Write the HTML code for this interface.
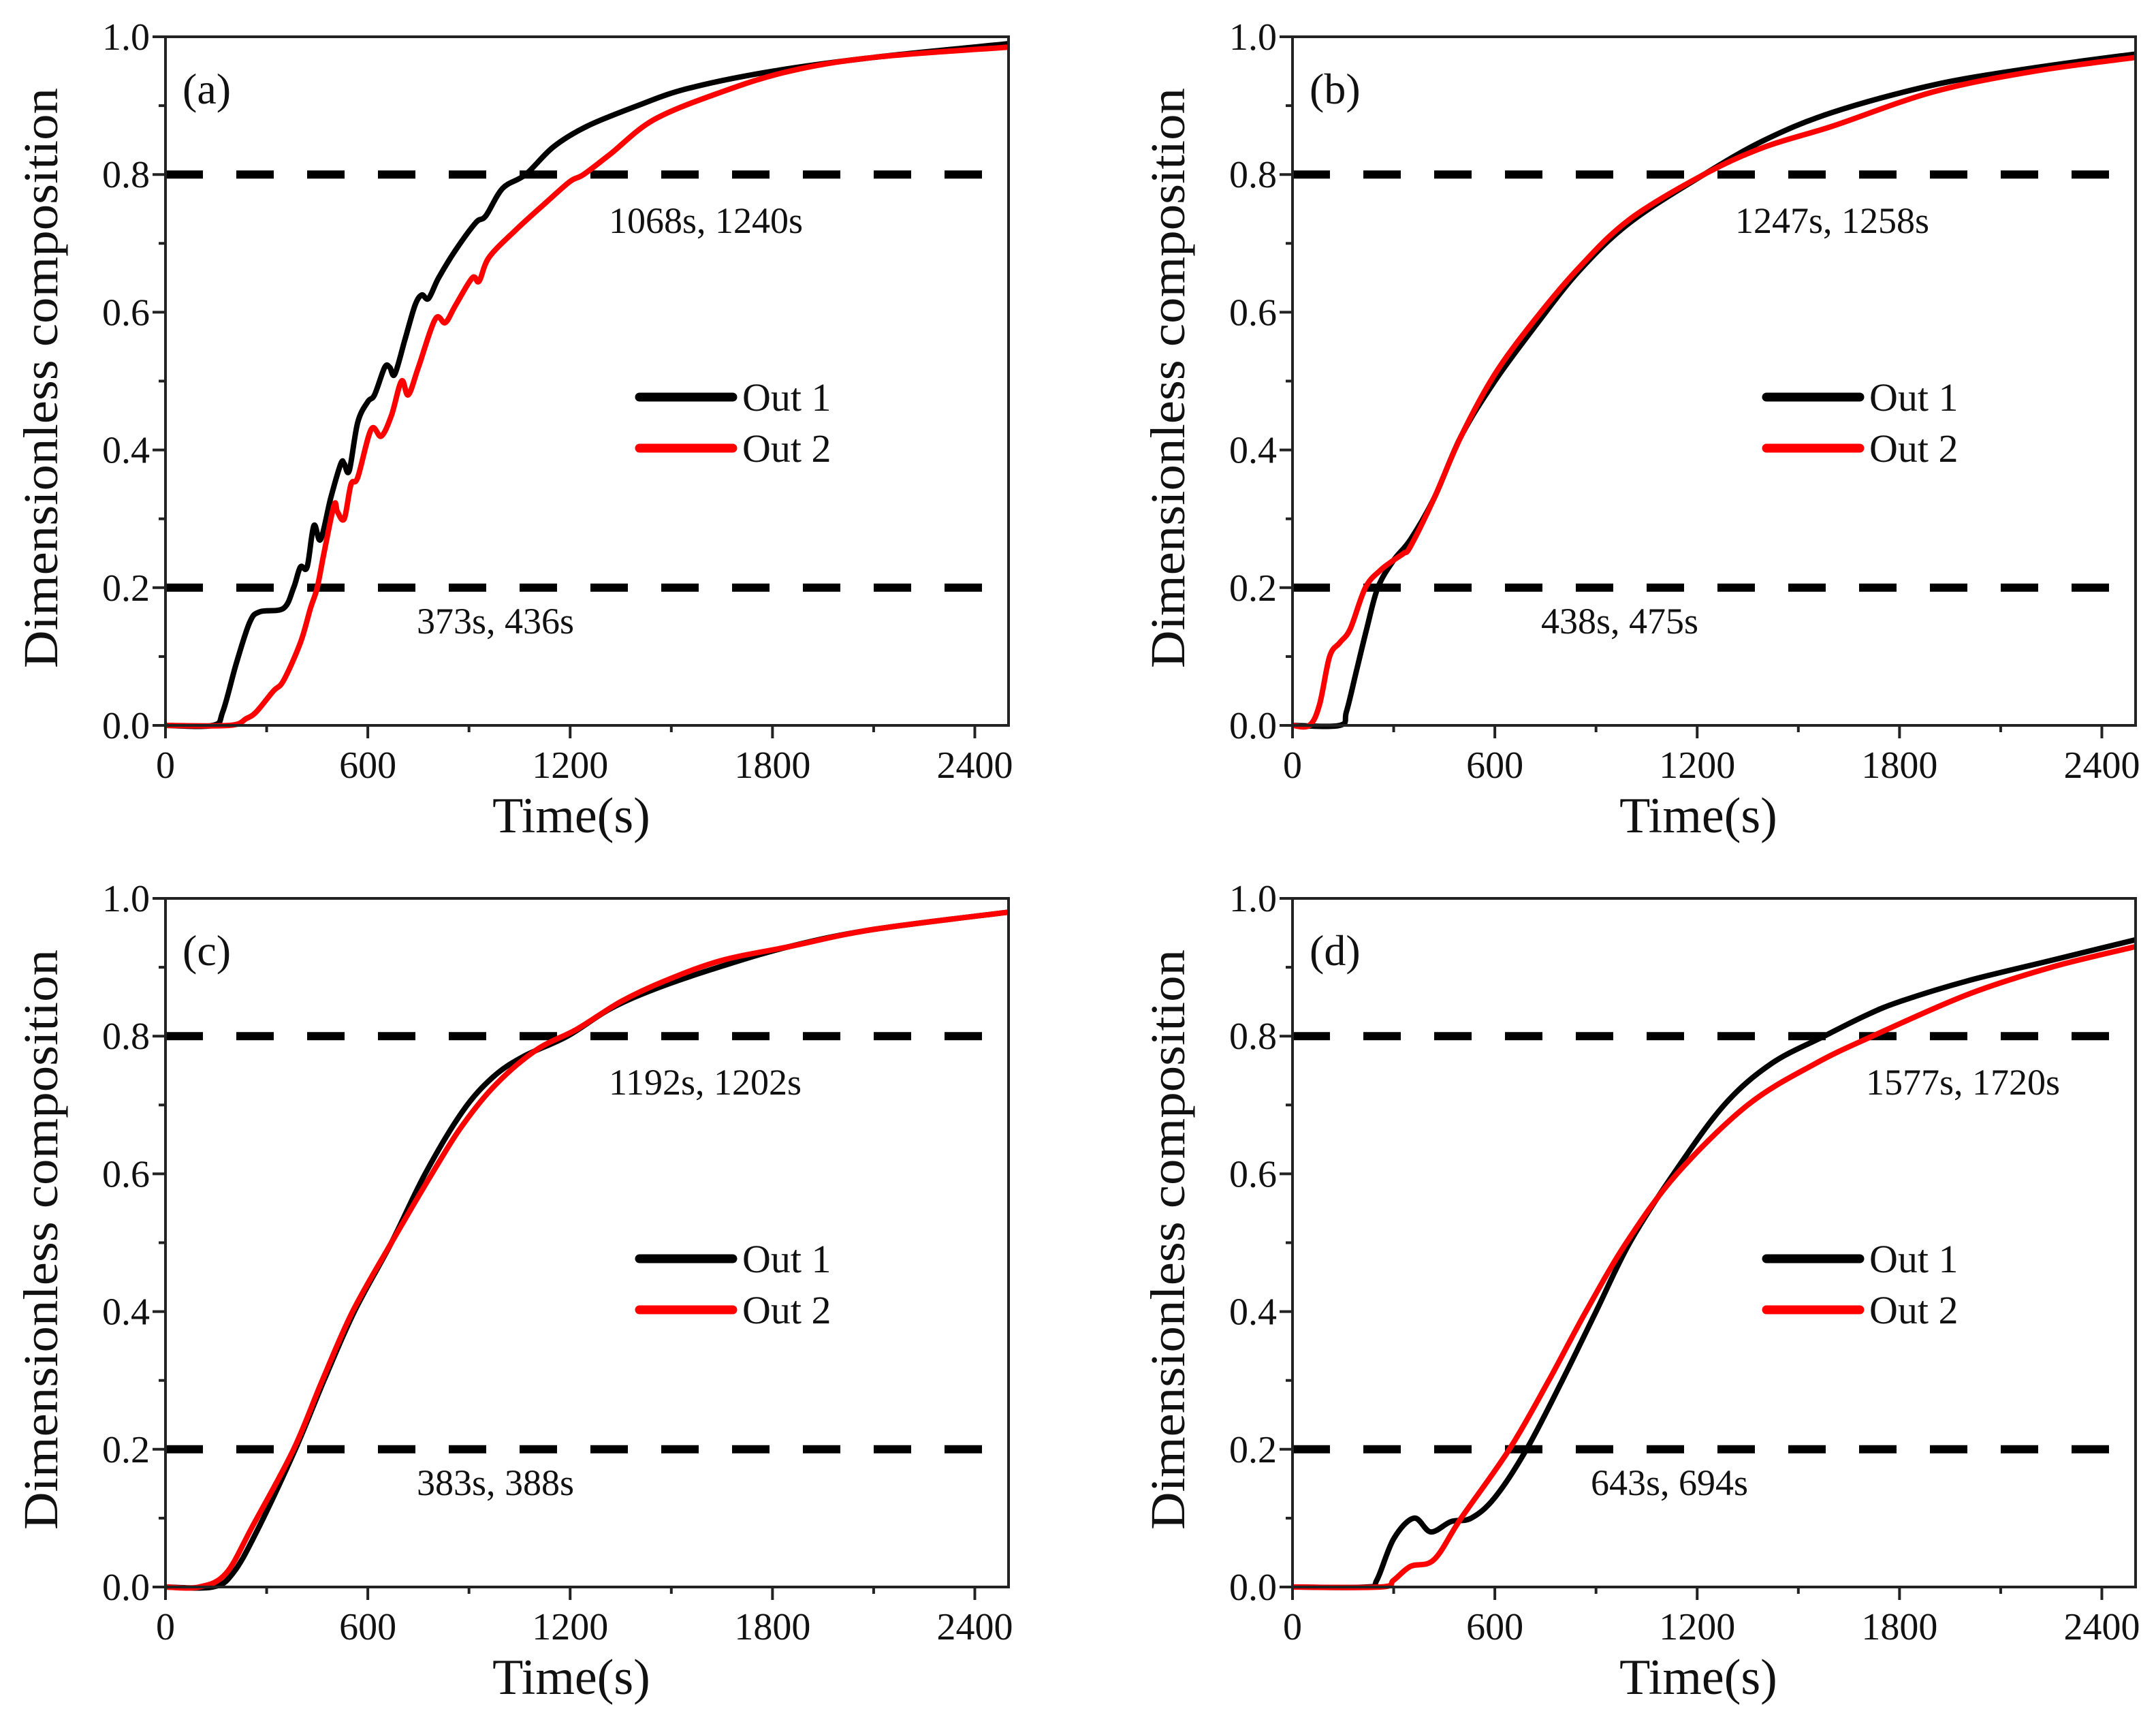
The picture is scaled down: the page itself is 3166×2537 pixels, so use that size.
<!DOCTYPE html>
<html><head><meta charset="utf-8"><style>
html,body{margin:0;padding:0;background:#fff;}
svg{display:block;}
svg text{font-family:"Liberation Serif","DejaVu Serif",serif !important;fill:#111;}
</style></head><body>
<svg id="fig" width="3166" height="2537" viewBox="0 0 3166 2537" xmlns="http://www.w3.org/2000/svg"></svg>
<script>
const panelLabels = ["(a)","(b)","(c)","(d)"];
const xTicks = [0,600,1200,1800,2400];
const yTicks = [0,0.2,0.4,0.6,0.8,1.0];
const thresholds = [0.2,0.8];
const annotLow = ["373s, 436s","438s, 475s","383s, 388s","643s, 694s"];
const annotHigh = ["1068s, 1240s","1247s, 1258s","1192s, 1202s","1577s, 1720s"];
const seriesNames = ["Out 1","Out 2"];
// panel a
const aT1 = [0,140,170,210,250,280,350,380,400,420,440,460,490,520,530,545,570,600,620,650,665,680,710,740,760,780,810,860,920,950,1000,1068,1150,1250,1400,1550,1800,2100,2500];
const aV1 = [0,0,0.02,0.09,0.15,0.165,0.17,0.2,0.23,0.23,0.29,0.27,0.33,0.38,0.38,0.37,0.44,0.47,0.48,0.52,0.52,0.51,0.56,0.61,0.625,0.62,0.65,0.69,0.73,0.74,0.78,0.80,0.84,0.87,0.90,0.925,0.95,0.97,0.99];
const aT2 = [0,190,240,270,320,350,400,430,450,470,500,510,530,550,570,610,640,670,700,720,750,800,830,860,910,930,960,1040,1130,1200,1240,1320,1450,1650,1850,2100,2500];
const aV2 = [0,0,0.01,0.02,0.05,0.065,0.12,0.17,0.2,0.25,0.32,0.31,0.30,0.35,0.36,0.43,0.42,0.45,0.50,0.48,0.52,0.59,0.585,0.61,0.65,0.645,0.68,0.72,0.76,0.79,0.80,0.83,0.88,0.92,0.95,0.97,0.985];
// panel b
const bT1 = [0,140,160,190,220,253,300,350,420,500,600,720,850,1000,1220,1400,1600,1900,2200,2500];
const bV1 = [0,0,0.02,0.08,0.14,0.2,0.24,0.27,0.33,0.42,0.50,0.58,0.66,0.73,0.80,0.85,0.89,0.93,0.955,0.975];
const bT2 = [0,50,80,110,140,171,216,260,300,330,350,420,500,600,720,850,1000,1220,1400,1600,1900,2200,2500];
const bV2 = [0,0,0.03,0.1,0.12,0.14,0.2,0.225,0.24,0.25,0.26,0.33,0.42,0.51,0.59,0.665,0.735,0.80,0.84,0.87,0.92,0.95,0.97];
// panel c
const cT1 = [0,140,200,270,385,470,560,670,770,880,970,1060,1192,1320,1460,1640,1850,2100,2500];
const cV1 = [0,0,0.02,0.08,0.2,0.3,0.4,0.5,0.6,0.69,0.74,0.77,0.80,0.84,0.87,0.90,0.93,0.955,0.98];
const cT2 = [0,100,180,260,380,465,555,670,790,880,980,1100,1220,1350,1480,1650,1850,2100,2500];
const cV2 = [0,0,0.02,0.09,0.2,0.3,0.4,0.5,0.6,0.67,0.73,0.78,0.81,0.85,0.88,0.91,0.93,0.955,0.98];
// panel d
const dT1 = [0,220,250,300,360,410,470,530,600,694,800,900,1000,1130,1280,1420,1577,1700,1800,2000,2250,2500];
const dV1 = [0,0,0.01,0.07,0.10,0.08,0.095,0.10,0.13,0.2,0.3,0.4,0.5,0.6,0.7,0.76,0.8,0.83,0.85,0.88,0.91,0.94];
const dT2 = [0,260,300,350,420,500,643,760,870,990,1140,1350,1550,1720,2000,2250,2500];
const dV2 = [0,0,0.01,0.03,0.04,0.10,0.2,0.3,0.4,0.5,0.6,0.7,0.76,0.8,0.86,0.9,0.93];

const panels = [[aT1,aV1,aT2,aV2],[bT1,bV1,bT2,bV2],[cT1,cV1,cT2,cV2],[dT1,dV1,dT2,dV2]];
const offsets = [[0,0],[1655,0],[0,1265],[1655,1265]];
const highX = [894,893,894,1085];
const lowX = [612,608,612,681];
const NS="http://www.w3.org/2000/svg";
const FF='"Liberation Serif", "DejaVu Serif", serif';
const svg=document.getElementById('fig');
function mk(tag,attrs,parent){const e=document.createElementNS(NS,tag);for(const k in attrs)e.setAttribute(k,attrs[k]);if(tag==='text')e.setAttribute('font-family',FF);(parent||svg).appendChild(e);return e;}
const X0=243,X1=1481,Y0=1065,Y1=54,XMAX=2500;
function smoothPath(pts){let d=`M${pts[0][0]},${pts[0][1]}`;for(let i=0;i<pts.length-1;i++){const p0=pts[Math.max(0,i-1)],p1=pts[i],p2=pts[i+1],p3=pts[Math.min(pts.length-1,i+2)];const c1=[p1[0]+(p2[0]-p0[0])/6,p1[1]+(p2[1]-p0[1])/6];const c2=[p2[0]-(p3[0]-p1[0])/6,p2[1]-(p3[1]-p1[1])/6];d+=` C${c1[0].toFixed(1)},${c1[1].toFixed(1)} ${c2[0].toFixed(1)},${c2[1].toFixed(1)} ${p2[0].toFixed(1)},${p2[1].toFixed(1)}`;}return d;}
panels.forEach((p,i)=>{
  const [ox,oy]=offsets[i];
  const g=mk('g',{transform:`translate(${ox},${oy})`});
  
  
  const sx=t=>X0+(X1-X0)*t/XMAX, sy=v=>Y0-(Y0-Y1)*v;
  thresholds.forEach(th=>{const l=mk('line',{x1:X0,x2:1450,y1:sy(th),y2:sy(th),stroke:'#000','stroke-width':12,'stroke-dasharray':'55 49'},g);
    
    });
  const cols=['#000','#ff0000'];
  [0,1].forEach(s=>{const T=p[s*2],V=p[s*2+1];const pts=T.map((t,k)=>[sx(t),sy(V[k])]);
    const path=mk('path',{d:smoothPath(pts),fill:'none',stroke:cols[s],'stroke-width':8,'stroke-linejoin':'round'},g);
    
    });
  const box=mk('rect',{x:X0,y:Y1,width:X1-X0,height:Y0-Y1,fill:'none',stroke:'#222','stroke-width':4},g);
  
  
  for(let t=0;t<=XMAX;t+=300){const major=t%600===0;mk('line',{x1:sx(t),x2:sx(t),y1:Y0,y2:Y0+(major?19:10),stroke:'#222','stroke-width':4},g);}
  for(let k=0;k<=10;k++){const v=k/10;const major=k%2===0;mk('line',{x1:X0,x2:X0-(major?19:10),y1:sy(v),y2:sy(v),stroke:'#222','stroke-width':4},g);}
  xTicks.forEach(t=>{const tx=mk('text',{x:sx(t),y:1142,'font-size':56,'text-anchor':'middle'},g);tx.textContent=t;
    
    });
  yTicks.forEach(v=>{const tx=mk('text',{x:220,y:sy(v)+19,'font-size':56,'text-anchor':'end'},g);tx.textContent=v.toFixed(1);
    
    });
  const xt=mk('text',{x:839,y:1222,'font-size':74,'text-anchor':'middle'},g);xt.textContent='Time(s)';
  
  
  const yt=mk('text',{x:0,y:0,'font-size':72,'text-anchor':'middle',transform:'translate(84,555) rotate(-90)',textLength:852,lengthAdjust:'spacingAndGlyphs'},g);yt.textContent='Dimensionless composition';
  
  
  const pl=mk('text',{x:268,y:152,'font-size':64},g);pl.textContent=panelLabels[i];
  
  
  const ah=mk('text',{x:highX[i],y:342,'font-size':54},g);ah.textContent=annotHigh[i];
  
  
  const al=mk('text',{x:lowX[i],y:930,'font-size':54},g);al.textContent=annotLow[i];
  
  
  [0,1].forEach(s=>{const y=583+75*s;
    const ll=mk('line',{x1:939,x2:1076,y1:y,y2:y,stroke:cols[s],'stroke-width':13,'stroke-linecap':'round'},g);
    
    
    const lt=mk('text',{x:1090,y:y+20,'font-size':58},g);lt.textContent=seriesNames[s];
    
    });
});
</script>
</body></html>
